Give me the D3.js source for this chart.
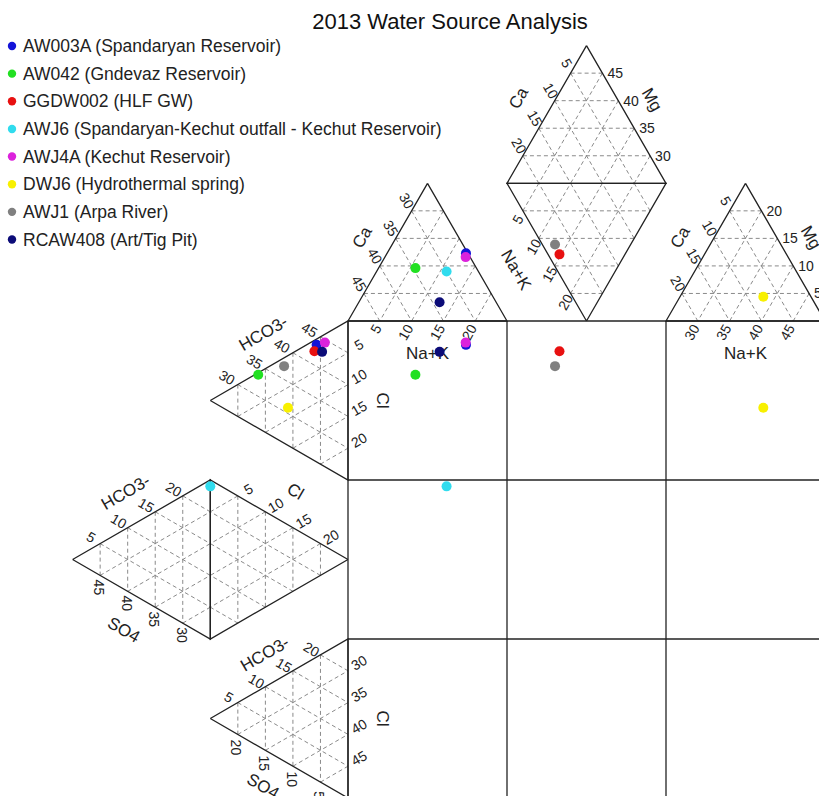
<!DOCTYPE html>
<html lang="en">
<head>
<meta charset="UTF-8">
<title>2013 Water Source Analysis</title>
<script src="https://d3js.org/d3.v7.min.js"></script>
<style>
  body { margin: 0; background: #fff; }
  svg { display: block; font-family: "Liberation Sans", Arial, sans-serif; }
  .edge { fill: none; stroke: #222; stroke-width: 1.3; }
  .grid { fill: none; stroke: #8a8a8a; stroke-width: 1; stroke-dasharray: 4,3; }
  .tick { font-size: 14px; fill: #222; }
  .axt { font-size: 17px; fill: #222; }
</style>
</head>
<body>
<svg id="chart" width="819" height="796"></svg>
<script>
// --- samples (legend order) ---
const sampleNames = [
  "AW003A (Spandaryan Reservoir)",
  "AW042 (Gndevaz Reservoir)",
  "GGDW002 (HLF GW)",
  "AWJ6 (Spandaryan-Kechut outfall - Kechut Reservoir)",
  "AWJ4A (Kechut Reservoir)",
  "DWJ6 (Hydrothermal spring)",
  "AWJ1 (Arpa River)",
  "RCAW408 (Art/Tig Pit)"
];
const sampleColors = ["#1414d8", "#22e022", "#e81010", "#30dcee", "#dc22dc", "#f8f000", "#808080", "#0c0c78"];

// cation field (triangle) each sample falls in, with Ca and Na+K (%)
const cationPanel = ["T1", "T1", "RL", "T1", "T1", "T3", "RL", "T1"];
const caPct       = [37.7, 40.4, 23.2, 41.0, 38.4, 20.6, 23.0, 46.6];
const nakPct      = [12.4,  5.8, 12.9, 11.0, 12.7, 38.1, 11.1, 12.7];

// anion field each sample falls in, with HCO3 and Cl (SO4 for A2) (%)
const anionPanel  = ["A1", "A1", "A1", "A2", "A1", "A1", "A1", "A1"];
const hco3Pct     = [44.3, 33.7, 43.9, 25.0, 45.8, 39.1, 38.4, 45.3];
const clOrSo4Pct  = [ 0.9,  0.3,  1.7, 49.0,  1.3,  8.2,  1.3,  2.5];

// axis tick labels
const ticksT1Ca = [30, 35, 40, 45], ticksT1Na = [5, 10, 15, 20];
const ticksRUCa = [5, 10, 15, 20], ticksRUMg = [45, 40, 35, 30], ticksRLNa = [5, 10, 15, 20];
const ticksT3Ca = [5, 10, 15, 20], ticksT3Mg = [20, 15, 10, 5], ticksT3Na = [30, 35, 40, 45];
const ticksA1Hco3 = [30, 35, 40, 45], ticksA1Cl = [5, 10, 15, 20];
const ticksA2Hco3 = [5, 10, 15, 20], ticksA2So4 = [45, 40, 35, 30], ticksA2Cl = [5, 10, 15, 20];
const ticksA3Hco3 = [5, 10, 15, 20], ticksA3So4 = [20, 15, 10, 5], ticksA3Cl = [30, 35, 40, 45];

// --- layout ---
const svg = d3.select("#chart");
const gx = d3.scaleLinear().domain([0, 3]).range([348, 825]);
const gy = d3.scaleLinear().domain([0, 3]).range([321, 798]);
const S = gx(1) - gx(0);
const H = S * Math.sqrt(3) / 2;
const X0 = gx(0), Y0 = gy(0);

const pt = (x, y) => ({x, y});
const lerp = (a, b, t) => pt(a.x + (b.x - a.x) * t, a.y + (b.y - a.y) * t);
const sub = (a, b) => pt(a.x - b.x, a.y - b.y);

// triangles: A = first vertex, edges described per use
const tri = {
  T1:  [pt(gx(0.5), Y0 - H), pt(gx(0), Y0), pt(gx(1), Y0)],
  RU:  [pt(gx(1.5), Y0 - 2 * H), pt(gx(1), Y0 - H), pt(gx(2), Y0 - H)],
  RL:  [pt(gx(1.5), Y0), pt(gx(1), Y0 - H), pt(gx(2), Y0 - H)],
  T3:  [pt(gx(2.5), Y0 - H), pt(gx(2), Y0), pt(gx(3), Y0)],
  A1:  [pt(X0 - H, gy(0.5)), pt(X0, gy(0)), pt(X0, gy(1))],
  A2L: [pt(X0 - 2 * H, gy(1.5)), pt(X0 - H, gy(1)), pt(X0 - H, gy(2))],
  A2R: [pt(X0, gy(1.5)), pt(X0 - H, gy(1)), pt(X0 - H, gy(2))],
  A3:  [pt(X0 - H, gy(2.5)), pt(X0, gy(2)), pt(X0, gy(3))]
};

// dashed grid + solid outline for each triangle
const gGrid = svg.append("g");
const gEdge = svg.append("g");
Object.values(tri).forEach(([A, B, C]) => {
  for (let k = 1; k <= 4; k++) {
    const t = k / 5;
    [[lerp(A, B, t), lerp(A, C, t)], [lerp(B, A, t), lerp(B, C, t)], [lerp(C, A, t), lerp(C, B, t)]]
      .forEach(([p, q]) => gGrid.append("line").attr("class", "grid")
        .attr("x1", p.x).attr("y1", p.y).attr("x2", q.x).attr("y2", q.y));
  }
  gEdge.append("path").attr("class", "edge")
    .attr("d", d3.line().x(d => d.x).y(d => d.y)([A, B, C, A]));
});

// central 3x3 field grid
[0, 1, 2, 3].forEach(i => {
  gEdge.append("line").attr("class", "edge")
    .attr("x1", gx(i)).attr("x2", gx(i)).attr("y1", gy(0)).attr("y2", gy(3));
  gEdge.append("line").attr("class", "edge")
    .attr("x1", gx(0)).attr("x2", gx(3)).attr("y1", gy(i)).attr("y2", gy(i));
});

// --- labels ---
const gLab = svg.append("g");
function edgeTicks(P0, P1, values, dx, dy, rot, anchor) {
  values.forEach((v, i) => {
    const p = lerp(P0, P1, (i + 1) / 5);
    gLab.append("text").attr("class", "tick")
      .attr("transform", `translate(${p.x + dx},${p.y + dy}) rotate(${rot})`)
      .attr("text-anchor", anchor || "middle").attr("dy", "0.35em").text(v);
  });
}
function axisTitle(P0, P1, dist, nx, ny, rot, label) {
  const m = lerp(P0, P1, 0.5);
  gLab.append("text").attr("class", "axt")
    .attr("transform", `translate(${m.x + dist * nx},${m.y + dist * ny}) rotate(${rot})`)
    .attr("text-anchor", "middle").attr("dy", "0.35em").text(label);
}
function plainTitle(x, y, rot, label) {
  gLab.append("text").attr("class", "axt")
    .attr("transform", `translate(${x},${y}) rotate(${rot})`)
    .attr("text-anchor", "middle").attr("dy", "0.35em").text(label);
}

// top-left cation triangle
let [A, B, C] = tri.T1;
edgeTicks(A, B, ticksT1Ca, -5, -10, 60);
edgeTicks(B, C, ticksT1Na, -2, 4.5, -60, "end");
axisTitle(A, B, 30, -0.866, -0.5, -60, "Ca");
plainTitle(gx(0.5), Y0 + 32, 0, "Na+K");

// top rhombus
[A, B, C] = tri.RU;
edgeTicks(A, B, ticksRUCa, -4, -10, 60);
edgeTicks(A, C, ticksRUMg, 5, 0, 0, "start");
axisTitle(A, B, 33, -0.866, -0.5, -60, "Ca");
axisTitle(A, C, 30, 0.866, -0.5, 60, "Mg");
[A, B, C] = tri.RL;
edgeTicks(B, A, ticksRLNa, -5, 8.5, -60);
axisTitle(B, A, 35, -0.866, 0.5, 60, "Na+K");

// top-right cation triangle
[A, B, C] = tri.T3;
edgeTicks(A, B, ticksT3Ca, -4, -10, 60);
edgeTicks(A, C, ticksT3Mg, 5, 0, 0, "start");
edgeTicks(B, C, ticksT3Na, -2, 4.5, -60, "end");
axisTitle(A, B, 30, -0.866, -0.5, -60, "Ca");
axisTitle(A, C, 30, 0.866, -0.5, 60, "Mg");
plainTitle(gx(2.5), Y0 + 32, 0, "Na+K");

// anion triangle, row 1
[A, B, C] = tri.A1;
edgeTicks(A, B, ticksA1Hco3, -11, -7, 30);
edgeTicks(B, C, ticksA1Cl, 11, -8, -30);
axisTitle(A, B, 32, -0.5, -0.866, -30, "HCO3-");
plainTitle(X0 + 35, gy(0.5), 90, "Cl");

// anion rhombus, row 2
[A, B, C] = tri.A2L;
edgeTicks(A, B, ticksA2Hco3, -9, -6.5, 30);
edgeTicks(A, C, ticksA2So4, -1, 12, 90);
axisTitle(A, B, 32, -0.5, -0.866, -30, "HCO3-");
axisTitle(A, C, 35, -0.5, 0.866, 30, "SO4");
const R2 = tri.A2R;
edgeTicks(R2[1], R2[0], ticksA2Cl, 10.5, -6.5, -30);
axisTitle(R2[1], R2[0], 33, 0.5, -0.866, 30, "Cl");

// anion triangle, row 3
[A, B, C] = tri.A3;
edgeTicks(A, B, ticksA3Hco3, -9, -5.5, 30);
edgeTicks(A, C, ticksA3So4, -1.5, 13, 90);
edgeTicks(B, C, ticksA3Cl, 11, -8, -30);
axisTitle(A, B, 29, -0.5, -0.866, -30, "HCO3-");
axisTitle(A, C, 32, -0.5, 0.866, 30, "SO4");
plainTitle(X0 + 35, gy(2.5), 90, "Cl");

// --- sample positions ---
// each field: origin, two edge vectors, and the value scale for each
const cationField = {
  T1: {o: tri.T1[0], u: sub(tri.T1[1], tri.T1[0]), v: sub(tri.T1[2], tri.T1[1]),
       su: d3.scaleLinear().domain([25, 50]), sv: d3.scaleLinear().domain([0, 25]), uKey: "ca", vKey: "nak"},
  T3: {o: tri.T3[0], u: sub(tri.T3[1], tri.T3[0]), v: sub(tri.T3[2], tri.T3[1]),
       su: d3.scaleLinear().domain([0, 25]), sv: d3.scaleLinear().domain([25, 50]), uKey: "ca", vKey: "nak"},
  RL: {o: tri.RL[1], u: sub(tri.RL[0], tri.RL[1]), v: sub(tri.RL[2], tri.RL[1]),
       su: d3.scaleLinear().domain([0, 25]), sv: d3.scaleLinear().domain([25, 0]), uKey: "nak", vKey: "ca"}
};
const anionField = {
  A1: {o: tri.A1[0], u: sub(tri.A1[1], tri.A1[0]), v: sub(tri.A1[2], tri.A1[1]),
       su: d3.scaleLinear().domain([25, 50]), sv: d3.scaleLinear().domain([0, 25]), uKey: "hco3", vKey: "second"},
  A2: {o: tri.A2L[0], u: sub(tri.A2L[1], tri.A2L[0]), v: sub(tri.A2L[2], tri.A2L[1]),
       su: d3.scaleLinear().domain([0, 25]), sv: d3.scaleLinear().domain([50, 25]), uKey: "hco3", vKey: "second"}
};
function place(f, d) {
  const a = f.su(d[f.uKey]), b = f.sv(d[f.vKey]);
  return pt(f.o.x + a * f.u.x + b * f.v.x, f.o.y + a * f.u.y + b * f.v.y);
}

const samples = sampleNames.map((name, i) => {
  const c = place(cationField[cationPanel[i]], {ca: caPct[i], nak: nakPct[i]});
  const a = place(anionField[anionPanel[i]], {hco3: hco3Pct[i], second: clOrSo4Pct[i]});
  return {name, color: sampleColors[i], cat: c, an: a, mid: pt(c.x, a.y)};
});

const gPts = svg.append("g");
samples.forEach(s => {
  [s.cat, s.an, s.mid].forEach(p => gPts.append("circle")
    .attr("cx", p.x).attr("cy", p.y).attr("r", 5).attr("fill", s.color));
});

// --- title and legend ---
svg.append("text").attr("x", 450).attr("y", 21).attr("dy", "0.35em")
  .attr("text-anchor", "middle").attr("font-size", 22).attr("fill", "#111")
  .text("2013 Water Source Analysis");

const ly = d3.scaleLinear().domain([0, 7]).range([46, 239.5]);
const leg = svg.append("g").selectAll("g").data(samples).join("g")
  .attr("transform", (d, i) => `translate(0,${ly(i)})`);
leg.append("circle").attr("cx", 12).attr("cy", 0).attr("r", 4.2).attr("fill", d => d.color);
leg.append("text").attr("x", 23).attr("dy", "0.35em").attr("font-size", 17.5)
  .attr("fill", "#222").text(d => d.name);
</script>
</body>
</html>
